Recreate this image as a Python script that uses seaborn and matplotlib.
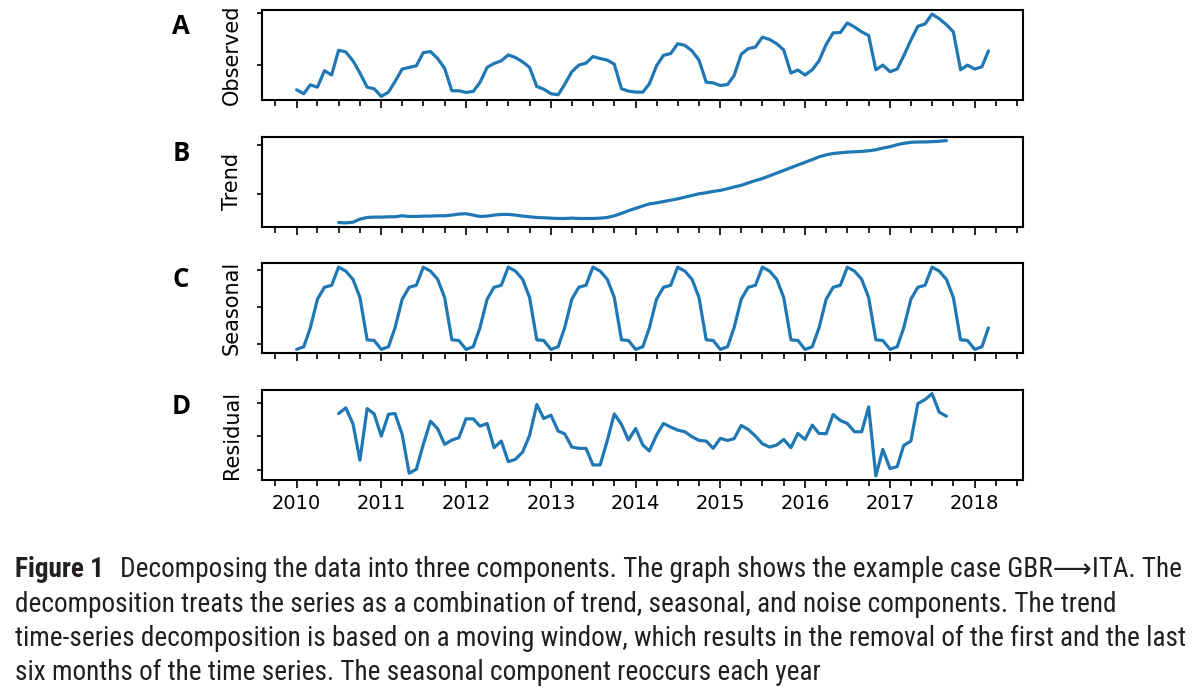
import numpy as np
import pandas as pd
import matplotlib
matplotlib.use("Agg")
import matplotlib.pyplot as plt
import matplotlib.dates as mdates
from matplotlib import font_manager
import seaborn as sns

# values (arbitrary units, y tick labels are blank in the source)
observed = [
    30, 18, 45, 38, 88, 75, 150, 145, 118, 81, 38, 33,        # 2010
    10, 23, 55, 93, 98, 103, 143, 146, 125, 95, 27, 27,       # 2011
    22, 25, 52, 98, 110, 118, 136, 128, 115, 98, 40, 32,      # 2012
    18, 15, 46, 85, 105, 111, 131, 125, 120, 108, 33, 26,     # 2013
    23, 23, 48, 103, 135, 140, 170, 165, 148, 120, 53, 51,    # 2014
    43, 46, 73, 138, 155, 160, 190, 183, 170, 151, 81, 90,    # 2015
    75, 91, 118, 168, 203, 204, 233, 221, 206, 195, 91, 105,  # 2016
    85, 93, 133, 181, 223, 230, 260, 246, 228, 206, 91, 105,  # 2017
    93, 100, 148,                                             # 2018
]
trend = [
    10, 9, 11, 20, 25, 26,                                     # 2010 (from Jul)
    26, 27, 27, 30, 28, 28, 29, 29, 30, 30, 32, 35,
    36, 32, 28, 29, 32, 34, 34, 32, 29, 27, 25, 24,
    23, 22, 22, 23, 22, 22, 22, 23, 25, 30, 37, 45,
    52, 59, 65, 68, 72, 76, 80, 85, 90, 95, 98, 102,
    105, 110, 115, 120, 127, 134, 140, 148, 156, 164, 172, 180,
    188, 196, 204, 210, 214, 216, 218, 219, 220, 222, 225, 230,
    234, 240, 244, 247, 248, 248, 249, 250, 252,               # 2017 (to Sep)
]
seasonal = [
    11, 19, 76, 163, 199, 205, 260, 248, 223, 168, 40, 38,
    11, 19, 76, 163, 199, 205, 260, 248, 223, 168, 40, 38,
    11, 19, 76, 163, 199, 205, 260, 248, 223, 168, 40, 38,
    11, 19, 76, 163, 199, 205, 260, 248, 223, 168, 40, 38,
    11, 19, 76, 163, 199, 205, 260, 248, 223, 168, 40, 38,
    11, 19, 76, 163, 199, 205, 260, 248, 223, 168, 40, 38,
    11, 19, 76, 163, 199, 205, 260, 248, 223, 168, 40, 38,
    11, 19, 76, 163, 199, 205, 260, 248, 223, 168, 40, 38,
    11, 19, 76,
]
residual = [
    199, 216, 168, 58, 214, 198,
    131, 197, 199, 136, 19, 31, 106, 176, 153, 106, 119, 126,
    183, 183, 161, 169, 96, 116, 54, 61, 83, 133, 226, 184,
    194, 146, 138, 98, 94, 94, 44, 44, 118, 198, 166, 119,
    154, 104, 86, 134, 169, 158, 149, 144, 129, 118, 116, 94,
    124, 118, 123, 163, 151, 131, 108, 98, 104, 121, 96, 139,
    121, 164, 139, 138, 196, 178, 169, 144, 144, 219, 11, 91,
    33, 39, 103, 116, 229, 241, 259, 203, 191,
]

panel_labels = ["Observed", "Trend", "Seasonal", "Residual"]
panel_letters = ["A", "B", "C", "D"]
panel_yticks = [[106, 264], [95, 240], [26, 138, 250], [30, 130, 230]]

caption_head = "Figure 1"
caption_lines = [
    "Decomposing the data into three components. The graph shows the example case GBR\u27f6ITA. The",
    "decomposition treats the series as a combination of trend, seasonal, and noise components. The trend",
    "time-series decomposition is based on a moving window, which results in the removal of the first and the last",
    "six months of the time series. The seasonal component reoccurs each year",
]

full_dates = pd.date_range("2010-01-01", periods=len(observed), freq="MS")
inner_dates = pd.date_range("2010-07-01", periods=len(trend), freq="MS")
frames = [
    pd.DataFrame({"date": full_dates, "value": observed}),
    pd.DataFrame({"date": inner_dates, "value": trend}),
    pd.DataFrame({"date": full_dates, "value": seasonal}),
    pd.DataFrame({"date": inner_dates, "value": residual}),
]

sns.set_theme(style="ticks")
plt.rcParams["font.family"] = ["DejaVu Sans"]

W, H = 1200, 699
fig, axes = plt.subplots(4, 1, figsize=(W / 100, H / 100), dpi=100, sharex=True)
fig.subplots_adjust(left=262 / W, right=1023 / W, top=1 - 10 / H, bottom=1 - 480 / H, hspace=0.398)

for ax, df, label, ticks in zip(axes, frames, panel_labels, panel_yticks):
    sns.lineplot(data=df, x="date", y="value", ax=ax, color="#1f77b4", linewidth=2.3)
    for sp in ax.spines.values():
        sp.set_visible(True)
        sp.set_color("black")
        sp.set_linewidth(1.5)
    ax.set_yticks(ticks)
    ax.set_yticklabels([])
    ax.set_xlabel("")
    ax.set_ylabel(label, fontsize=15, color="black")
    ax.yaxis.set_label_coords(-0.0263, 0.5)
    ax.tick_params(axis="y", direction="out", length=3.6, width=1.2, color="black")
    ax.tick_params(axis="x", which="major", direction="out", length=5.8, width=1.2,
                   color="black", labelsize=14, labelcolor="black", pad=4)
    ax.tick_params(axis="x", which="minor", direction="out", length=4, width=1.2, color="black")

axes[-1].xaxis.set_major_locator(mdates.YearLocator())
axes[-1].xaxis.set_major_formatter(mdates.DateFormatter("%Y"))
axes[-1].xaxis.set_minor_locator(mdates.MonthLocator(bymonth=[1, 4, 7, 10]))

# panel letters
for ax, letter in zip(axes, panel_letters):
    top = ax.get_position().y1
    fig.text(181 / W, top - 3 / H, letter, ha="center", va="top",
             fontsize=18.5, fontweight="bold", family=["Open Sans", "DejaVu Sans"], color="black")

# caption, condensed face if one is installed
names = {f.name for f in font_manager.fontManager.ttflist}
cap_font = next((n for n in ["Liberation Sans Narrow", "Roboto Condensed", "Open Sans Condensed",
                             "Open Sans", "Liberation Sans"] if n in names), "DejaVu Sans")
cap_family = [cap_font, "DejaVu Sans"]
cap_color = "#231f20"
baselines = [577, 611.5, 646, 680.5]

head = fig.text(15 / W, 1 - baselines[0] / H, caption_head, fontsize=17, fontweight="bold",
                family=cap_family, color=cap_color, va="baseline")
body = []
for i, line in enumerate(caption_lines):
    body.append(fig.text(15 / W, 1 - baselines[i] / H, line, fontsize=17,
                         family=cap_family, color=cap_color, va="baseline"))

# scale the caption so the longest line spans the same width as in the figure
renderer = fig.canvas.get_renderer()
widest = body[2].get_window_extent(renderer).width
size = 17 * (1168 / widest)
head.set_fontsize(size)
for t in body:
    t.set_fontsize(size)
hb = head.get_window_extent(renderer)
body[0].set_x((hb.x1 + size * 100 / 72 * 0.6) / W)

fig.savefig("out.png", dpi=100)
